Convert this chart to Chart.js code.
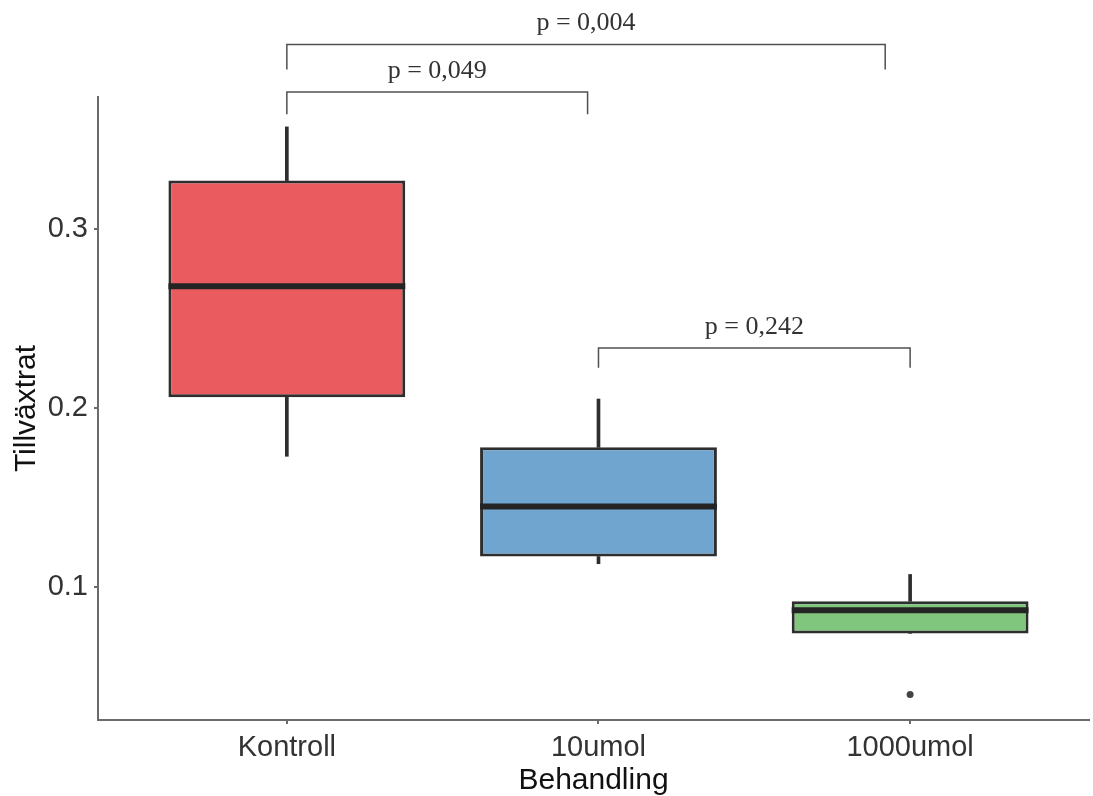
<!DOCTYPE html>
<html>
<head>
<meta charset="utf-8">
<script src="https://cdn.jsdelivr.net/npm/chart.js@4.4.1/dist/chart.umd.min.js"></script>
<style>
  html, body { margin: 0; padding: 0; background: #fff; }
  #wrap { width: 1093px; height: 796px; }
</style>
</head>
<body>
<div id="wrap"><canvas id="chart"></canvas></div>
<script>
// box statistics per group
const categories = ['Kontroll', '10umol', '1000umol'];
const whiskerLow = [0.173, 0.113, 0.074];
const quartile1 = [0.206, 0.117, 0.074];
const medians = [0.268, 0.145, 0.087];
const quartile3 = [0.327, 0.178, 0.092];
const whiskerHigh = [0.357, 0.205, 0.107];
const outlierGroup = [2];
const outlierValue = [0.040];
const yTicks = [0.1, 0.2, 0.3];

// significance brackets (group positions, y in data units)
const bracketStart = [0, 0, 1];
const bracketEnd = [1.92, 0.965, 2];
const bracketTop = [0.403, 0.3765, 0.2335];
const bracketFoot = [0.389, 0.364, 0.2224];
const pLabels = ['p = 0,004', 'p = 0,049', 'p = 0,242'];

const boxColors = ['#EA5B5F', '#70A5CF', '#80C67D'];
const inkColor = '#2e2e2e';
const axisColor = '#6b6b6b';

const boxExtras = {
    id: 'boxExtras',
    afterDatasetsDraw(chart) {
        const { ctx } = chart;
        const yScale = chart.scales.y;
        const boxMeta = chart.getDatasetMeta(0);
        ctx.save();
        ctx.strokeStyle = '#242424';
        ctx.lineWidth = 6;
        ctx.lineCap = 'butt';
        boxMeta.data.forEach((bar, i) => {
            const py = yScale.getPixelForValue(medians[i]);
            ctx.beginPath();
            ctx.moveTo(bar.x - bar.width / 2, py);
            ctx.lineTo(bar.x + bar.width / 2, py);
            ctx.stroke();
        });
        ctx.restore();
    },
    afterDraw(chart) {
        const { ctx } = chart;
        const xScale = chart.scales.x;
        const yScale = chart.scales.y;
        ctx.save();
        ctx.strokeStyle = '#505050';
        ctx.lineWidth = 1.5;
        ctx.fillStyle = '#333';
        ctx.font = '26px "Liberation Serif", "Times New Roman", serif';
        ctx.textAlign = 'center';
        ctx.textBaseline = 'middle';
        pLabels.forEach((label, i) => {
            const x1 = xScale.getPixelForValue(bracketStart[i]);
            const x2 = xScale.getPixelForValue(bracketEnd[i]);
            const top = yScale.getPixelForValue(bracketTop[i]);
            const foot = yScale.getPixelForValue(bracketFoot[i]);
            ctx.beginPath();
            ctx.moveTo(x1, foot);
            ctx.lineTo(x1, top);
            ctx.lineTo(x2, top);
            ctx.lineTo(x2, foot);
            ctx.stroke();
            ctx.fillText(label, (x1 + x2) / 2, top - 21);
        });
        ctx.restore();
    },
};

new Chart(document.getElementById('chart'), {
    type: 'bar',
    data: {
        datasets: [
            {
                label: 'box',
                data: categories.map((_, i) => ({ x: i, y: [quartile1[i], quartile3[i]] })),
                backgroundColor: boxColors,
                borderColor: inkColor,
                borderWidth: 3,
                borderSkipped: false,
                grouped: false,
                barPercentage: 0.76,
                categoryPercentage: 1,
                order: 0,
            },
            {
                label: 'lower whisker',
                data: categories.map((_, i) => ({ x: i, y: [whiskerLow[i], quartile1[i]] })),
                backgroundColor: inkColor,
                borderWidth: 0,
                grouped: false,
                barThickness: 3,
                order: 1,
            },
            {
                label: 'upper whisker',
                data: categories.map((_, i) => ({ x: i, y: [quartile3[i], whiskerHigh[i]] })),
                backgroundColor: inkColor,
                borderWidth: 0,
                grouped: false,
                barThickness: 3,
                order: 1,
            },
            {
                type: 'scatter',
                label: 'outlier',
                data: outlierGroup.map((g, i) => ({ x: g, y: outlierValue[i] })),
                backgroundColor: '#444',
                borderWidth: 0,
                pointRadius: 3.5,
                clip: false,
                order: 0,
            },
        ],
    },
    plugins: [boxExtras],
    options: {
        responsive: true,
        maintainAspectRatio: false,
        animation: false,
        layout: { padding: { top: 97, left: 0, right: 0, bottom: 0 } },
        plugins: {
            legend: { display: false },
            tooltip: { enabled: false },
        },
        scales: {
            x: {
                type: 'linear',
                offset: false,
                min: -0.606,
                max: 2.574,
                afterBuildTicks: (scale) => { scale.ticks = categories.map((_, i) => ({ value: i })); },
                afterFit: (scale) => { scale.height = 76; },
                ticks: {
                    color: '#333',
                    font: { family: '"Liberation Sans", Arial, sans-serif', size: 29 },
                    padding: 7,
                    maxRotation: 0,
                    callback: (value) => categories[value] ?? '',
                },
                grid: { offset: false, drawOnChartArea: false, drawTicks: true, tickLength: 4, color: axisColor, lineWidth: 2 },
                border: { display: true, color: axisColor, width: 2 },
                title: {
                    display: true,
                    text: 'Behandling',
                    color: '#111',
                    font: { family: '"Liberation Sans", Arial, sans-serif', size: 30, lineHeight: 1 },
                    padding: { top: 0, bottom: 0 },
                },
            },
            y: {
                type: 'linear',
                min: 0.0257,
                max: 0.3737,
                afterBuildTicks: (scale) => { scale.ticks = yTicks.map((v) => ({ value: v })); },
                afterFit: (scale) => { scale.width = 98; },
                ticks: {
                    color: '#333',
                    font: { family: '"Liberation Sans", Arial, sans-serif', size: 29 },
                    padding: 6,
                    callback: (value) => value.toFixed(1),
                },
                grid: { drawOnChartArea: false, drawTicks: true, tickLength: 4, color: axisColor, lineWidth: 2 },
                border: { display: true, color: axisColor, width: 2 },
                title: {
                    display: true,
                    text: 'Tillväxtrat',
                    color: '#111',
                    font: { family: '"Liberation Sans", Arial, sans-serif', size: 30 },
                    padding: { top: 9, bottom: 0 },
                },
            },
        },
    },
});
</script>
</body>
</html>
